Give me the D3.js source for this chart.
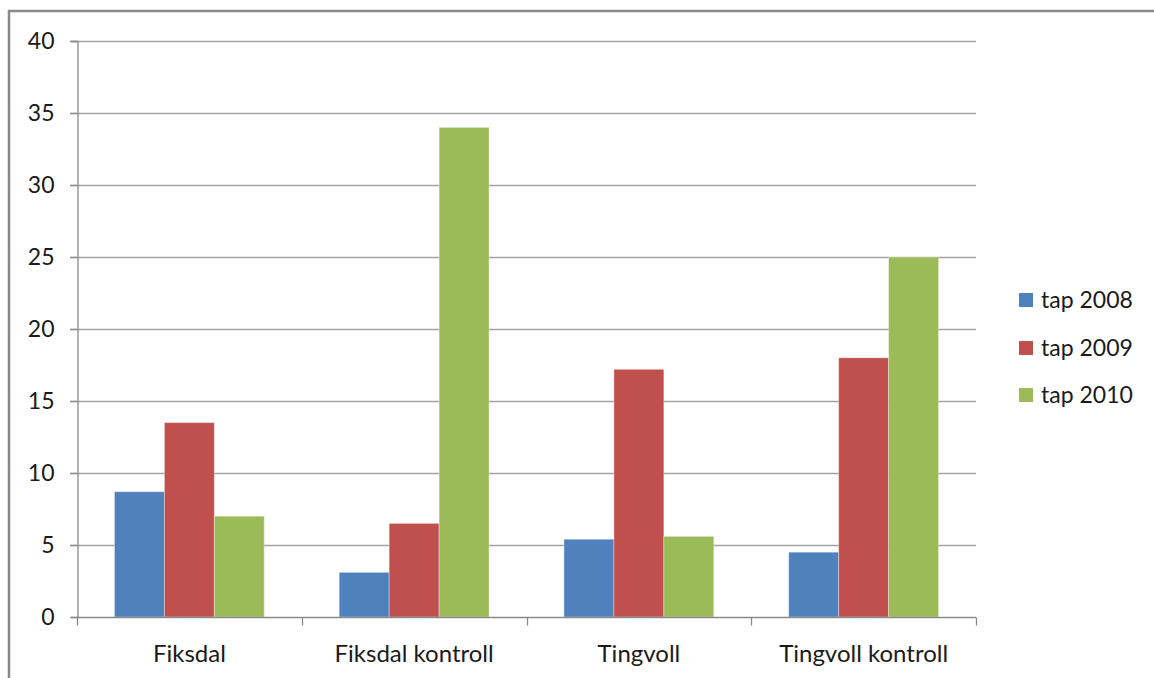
<!DOCTYPE html>
<html>
<head>
<meta charset="utf-8">
<script src="https://cdn.jsdelivr.net/npm/d3@7"></script>
<style>
  html, body { margin: 0; padding: 0; background: #fff; }
  svg { display: block; }
  text { font-family: Lato, "Open Sans", sans-serif; fill: #1a1a1a; }
</style>
</head>
<body>
<svg id="chart" width="1154" height="678"></svg>
<script>
const categories = ["Fiksdal", "Fiksdal kontroll", "Tingvoll", "Tingvoll kontroll"];
const seriesNames = ["tap 2008", "tap 2009", "tap 2010"];
const tap2008 = [8.7, 3.1, 5.4, 4.5];
const tap2009 = [13.5, 6.5, 17.2, 18.0];
const tap2010 = [7.0, 34.0, 5.6, 25.0];
const yTicks = [0, 5, 10, 15, 20, 25, 30, 35, 40];
const colors = ["#4F81BD", "#C0504D", "#9BBB59"];

const seriesValues = [tap2008, tap2009, tap2010];
const data = categories.map((c, i) => ({
  category: c,
  values: seriesNames.map((s, j) => ({ series: s, value: seriesValues[j][i], color: colors[j] }))
}));

const svg = d3.select("#chart");
const plotL = 77, plotR = 976, plotT = 41, plotB = 617;

// frame
svg.append("rect")
  .attr("x", 9).attr("y", 11).attr("width", 1170).attr("height", 700)
  .attr("fill", "none").attr("stroke", "#8a8a8a").attr("stroke-width", 2.5);

const x0 = d3.scaleBand().domain(categories).range([plotL, plotR]).paddingInner(0).paddingOuter(0);
const x1 = d3.scaleBand().domain(seriesNames).range([0, x0.bandwidth()]).paddingInner(0).paddingOuter(0.75);
const y = d3.scaleLinear().domain([0, 40]).range([plotB, plotT]);

// gridlines
svg.append("g").selectAll("line").data(yTicks.filter(t => t > 0)).join("line")
  .attr("x1", plotL - 7).attr("x2", plotR)
  .attr("y1", d => Math.round(y(d)) + 0.5).attr("y2", d => Math.round(y(d)) + 0.5)
  .attr("stroke", "#a3a3a3").attr("stroke-width", 1.3);

// y axis
const yAxis = svg.append("g").attr("transform", `translate(${plotL + 0.5},0)`)
  .call(d3.axisLeft(y).tickValues(yTicks).tickSize(7).tickPadding(16));
yAxis.select(".domain").attr("stroke", "#8a8a8a").attr("stroke-width", 1.3);
yAxis.selectAll(".tick line").attr("stroke", "#8a8a8a").attr("stroke-width", 1.3);
yAxis.selectAll(".tick text").style("font-size", "23px").style("font-family", "Lato, sans-serif").attr("fill", "#1a1a1a");

// bars
const groups = svg.append("g").selectAll("g").data(data).join("g")
  .attr("transform", d => `translate(${x0(d.category)},0)`);
groups.selectAll("rect").data(d => d.values).join("rect")
  .attr("x", d => x1(d.series))
  .attr("width", x1.bandwidth())
  .attr("y", d => y(d.value))
  .attr("height", d => y(0) - y(d.value))
  .attr("fill", d => d.color)
  .attr("stroke", "rgba(255,255,255,0.35)")
  .attr("stroke-width", 1);

// x axis
const xAxisG = svg.append("g").attr("transform", `translate(0,${plotB + 0.5})`);
xAxisG.append("line").attr("x1", plotL).attr("x2", plotR).attr("y1", 0).attr("y2", 0)
  .attr("stroke", "#8a8a8a").attr("stroke-width", 1.3);
const boundaries = categories.map(c => x0(c)).concat([plotR]);
xAxisG.selectAll("line.tk").data(boundaries).join("line").attr("class", "tk")
  .attr("x1", d => Math.round(d) + 0.5).attr("x2", d => Math.round(d) + 0.5)
  .attr("y1", 0).attr("y2", 8)
  .attr("stroke", "#8a8a8a").attr("stroke-width", 1.3);
xAxisG.selectAll("text").data(categories).join("text")
  .attr("x", d => x0(d) + x0.bandwidth() / 2)
  .attr("y", 44)
  .attr("text-anchor", "middle")
  .style("font-size", "24px")
  .text(d => d);

// legend
const legend = svg.append("g");
const ly = [300, 348, 395];
seriesNames.forEach((s, i) => {
  legend.append("rect").attr("x", 1019).attr("y", ly[i] - 7).attr("width", 14).attr("height", 14)
    .attr("fill", colors[i]);
  legend.append("text").attr("x", 1041).attr("y", ly[i]).attr("dy", "0.35em")
    .style("font-size", "23px").text(s);
});
</script>
</body>
</html>
